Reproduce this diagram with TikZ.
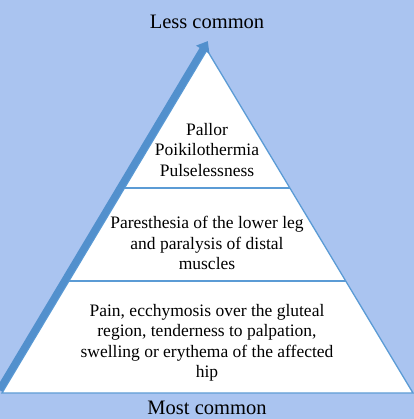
\documentclass[tikz,border=0pt]{standalone}
\usepackage{fontspec}
\setmainfont{Liberation Serif}
\usetikzlibrary{calc,arrows.meta}
\definecolor{bgblue}{RGB}{170,196,240}
\definecolor{lineblue}{RGB}{91,155,213}
\definecolor{arrowblue}{RGB}{82,144,205}
\tikzset{pyr/.style={x=1bp,y=-1bp},
  band/.style={align=center,inner sep=0pt,font=\fontsize{17.5bp}{20.5bp}\selectfont},
  caption/.style={inner sep=0pt,font=\fontsize{20.5bp}{24bp}\selectfont},
  edge/.style={lineblue,line width=1.3bp}}

\begin{document}
\begin{tikzpicture}[pyr]
    \fill[bgblue] (0,0) rectangle (414,419);
    \useasboundingbox (0,0) rectangle (414,419);
    \coordinate (apex) at (207,50);
    \coordinate (bl) at (2,393);
    \coordinate (br) at (413,393);
    \fill[white] (apex) -- (bl) -- (br) -- cycle;
    \foreach \t in {0.4023,0.6735} \draw[edge] ($(apex)!\t!(bl)$) -- ($(apex)!\t!(br)$);
    \draw[edge,line join=miter] (apex) -- (bl) -- (br) -- cycle;
    % rising arrow along the left side
    \coordinate (tail) at ($(bl)!0.009!(apex)+(-4.5,0)$);
    \coordinate (tip) at ($(apex)!-0.026!(bl)+(-4.5,0)$);
    \draw[arrowblue,line width=7bp,-{Triangle[length=10bp,width=15bp]}] (tail) -- (tip);
    \node[caption] (less) at (207,22) {Less common};
    \node[band] (top) at (207,150) {Pallor\\Poikilothermia\\Pulselessness};
    \node[band] (mid) at (207,243) {Paresthesia of the lower leg\\and paralysis of distal\\muscles};
    \node[band] (base) at (207,343) {Pain, ecchymosis over the gluteal\\region, tenderness to palpation,\\swelling or erythema of the affected\\hip};
    \node[caption] (most) at (207,408) {Most common};
\end{tikzpicture}
\end{document}
